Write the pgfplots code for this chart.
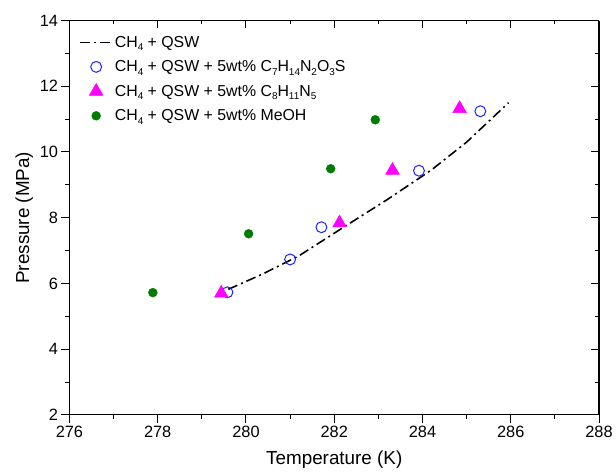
\documentclass[border=0pt]{standalone}
\usepackage{pgfplots}
\pgfplotsset{compat=1.18}
\usepackage{fontspec}
\setmainfont{Liberation Sans}
\definecolor{cblue}{RGB}{30,30,255}
\definecolor{cmag}{RGB}{255,0,255}
\definecolor{cgreen}{RGB}{0,125,0}
\newcommand{\sub}[1]{\raisebox{-0.45ex}{\fontsize{10}{10}\selectfont #1}}
\pgfplotstableread{
T P
279.6 5.82
280.4 6.30
281.2 6.84
282.2 7.70
283.2 8.55
284.2 9.45
285.0 10.30
285.95 11.50
}\lineCH
\pgfplotstableread{
T P
279.58 5.73
281.00 6.73
281.71 7.71
283.92 9.43
285.31 11.24
}\circ
\pgfplotstableread{
T P
279.44 5.70
282.12 7.84
283.32 9.44
284.84 11.32
}\tri
\pgfplotstableread{
T P
277.89 5.72
280.06 7.51
281.92 9.49
282.93 10.98
}\meoh
\begin{document}
\begin{tikzpicture}
\path (0pt,0pt) rectangle (616pt,477pt);
\pgfplotsset{
 common/.style={at={(70pt,58.7pt)}, anchor=south west, width=534pt, height=397.6pt, scale only axis,
  xmin=276, xmax=288, ymin=2, ymax=14,
  xtick={276,278,...,288}, ytick={2,4,...,14},
  minor x tick num=1, minor y tick num=1,
  axis line style={line width=1.2pt},
  major tick length=8pt, minor tick length=4pt,
  every tick/.style={line width=1pt, black},
  /pgf/number format/assume math mode=true,
  tick label style={font=\fontsize{16.5}{19}\selectfont},
  label style={font=\fontsize{19}{22}\selectfont}}
}
\begin{axis}[common, axis x line*=top, axis y line*=right, tick align=inside,
  xticklabels={}, yticklabels={}]
\end{axis}
\begin{axis}[common, axis x line*=bottom, axis y line*=left, tick align=outside,
  xlabel={Temperature (K)}, ylabel={Pressure (MPa)},
  xlabel style={yshift=-6pt}, ylabel style={yshift=0pt},
  legend style={draw=none, fill=none, at={(0.0187,0.966)}, anchor=north west, inner sep=0pt,
    font=\fontsize{16}{19}\selectfont, cells={anchor=west}, row sep=8pt},
  legend image code/.code={\draw[mark repeat=2,mark phase=2,#1] plot coordinates {(0pt,0pt) (16pt,0pt) (32pt,0pt)};}
]
\addplot[black, line width=1.6pt, dash pattern=on 10pt off 4pt on 2pt off 4pt, mark=none] table[x=T,y=P] {\lineCH};
\addlegendentry{CH\sub{4} + QSW}
\addplot[only marks, mark=o, mark size=5.5pt, mark options={draw=cblue, line width=1pt}] table[x=T,y=P] {\circ};
\addlegendentry{CH\sub{4} + QSW + 5wt\% C\sub{7}H\sub{14}N\sub{2}O\sub{3}S}
\addplot[only marks, mark=triangle*, mark size=8pt, mark options={draw=cmag, fill=cmag}] table[x=T,y=P] {\tri};
\addlegendentry{CH\sub{4} + QSW + 5wt\% C\sub{8}H\sub{11}N\sub{5}}
\addplot[only marks, mark=*, mark size=4.5pt, mark options={draw=cgreen, fill=cgreen}] table[x=T,y=P] {\meoh};
\addlegendentry{CH\sub{4} + QSW + 5wt\% MeOH}
\end{axis}
\end{tikzpicture}
\end{document}
